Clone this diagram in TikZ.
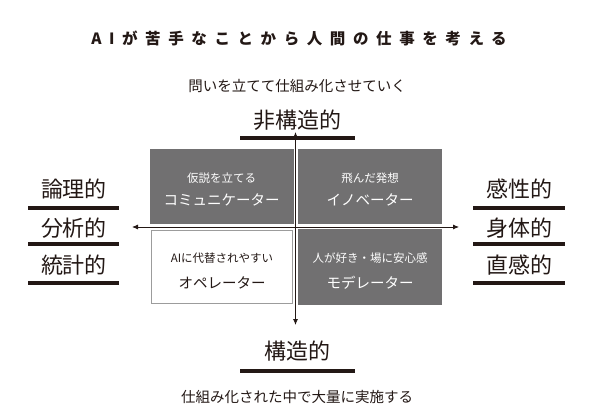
\documentclass[tikz,border=0pt]{standalone}
\usepackage{fontspec}
\setmainfont{Noto Sans CJK JP}
\newfontfamily\titlefont[LetterSpace=49]{Noto Sans CJK JP}
\usetikzlibrary{arrows.meta}
\definecolor{ink}{HTML}{231815}
\definecolor{boxgray}{HTML}{717071}
\definecolor{boxedge}{HTML}{9C9C9C}
\begin{document}
\begin{tikzpicture}[x=1pt,y=-1pt,
  txt/.style={inner sep=0pt,text=ink},
  big/.style={txt,font=\fontsize{22}{24}\selectfont},
  mid/.style={txt,font=\fontsize{14.5}{16}\selectfont},
  graybox/.style={fill=boxgray,draw=none,minimum width=144pt,minimum height=75pt,inner sep=0pt},
  whitebox/.style={fill=white,draw=boxedge,line width=1.2pt,minimum width=141pt,minimum height=73pt,inner sep=0pt},
  small/.style={inner sep=0pt,font=\fontsize{11.5}{13}\selectfont},
  role/.style={inner sep=0pt,font=\fontsize{14.5}{16}\selectfont},
  bar/.style={ink,line width=4.5pt},
  axis/.style={ink,line width=0.8pt,-{Latex[length=6pt,width=5pt]}}]
\useasboundingbox[fill=white] (0,0) rectangle (592,414);

% title
\node[txt] (title) at (299,38.5) {\titlefont\bfseries\fontsize{15.5}{17}\selectfont AIが苦手なことから人間の仕事を考える};

% top
\node[mid] (sub) at (297,86) {問いを立てて仕組み化させていく};
\node[big] (nonstruct) at (297,120) {非構造的};
\draw[bar] (240,138) -- (355,138);

% quadrants
\node[graybox] (q1) at (221.5,186.5) {};
\node[graybox] (q2) at (370,186.5) {};
\node[whitebox] (q3) at (222,267) {};
\node[graybox] (q4) at (370,267) {};

\node[small,text=white] (q1a) at (221.5,178) {仮説を立てる};
\node[role,text=white] (q1b) at (221.5,200) {コミュニケーター};
\node[small,text=white] (q2a) at (370,178) {飛んだ発想};
\node[role,text=white] (q2b) at (370,200) {イノベーター};
\node[small,text=ink] (q3a) at (222,258) {AIに代替されやすい};
\node[role,text=ink] (q3b) at (222,283) {オペレーター};
\node[small,text=white] (q4a) at (370,258) {人が好き・場に安心感};
\node[role,text=white] (q4b) at (370,283) {モデレーター};

% axes
\coordinate (O) at (295.5,227);
\coordinate (up) at (295.5,132);
\coordinate (down) at (295.5,325);
\coordinate (left) at (132,227);
\coordinate (right) at (459,227);
\draw[axis] (O) -- (up);
\draw[axis] (O) -- (down);
\draw[axis] (O) -- (left);
\draw[axis] (O) -- (right);

% left labels
\node[big] (l1) at (74,189) {論理的};
\draw[bar] (28,208) -- (119,208);
\node[big] (l2) at (74,228) {分析的};
\draw[bar] (28,244) -- (119,244);
\node[big] (l3) at (74,265) {統計的};
\draw[bar] (28,283) -- (119,283);

% right labels
\node[big] (r1) at (519,189) {感性的};
\draw[bar] (473,208) -- (565,208);
\node[big] (r2) at (519,228) {身体的};
\draw[bar] (473,244) -- (565,244);
\node[big] (r3) at (519,265) {直感的};
\draw[bar] (473,283) -- (565,283);

% bottom
\node[big] (struct) at (297,351) {構造的};
\draw[bar] (240,371) -- (355,371);
\node[mid] (bottomtxt) at (297,397) {仕組み化された中で大量に実施する};
\end{tikzpicture}
\end{document}
